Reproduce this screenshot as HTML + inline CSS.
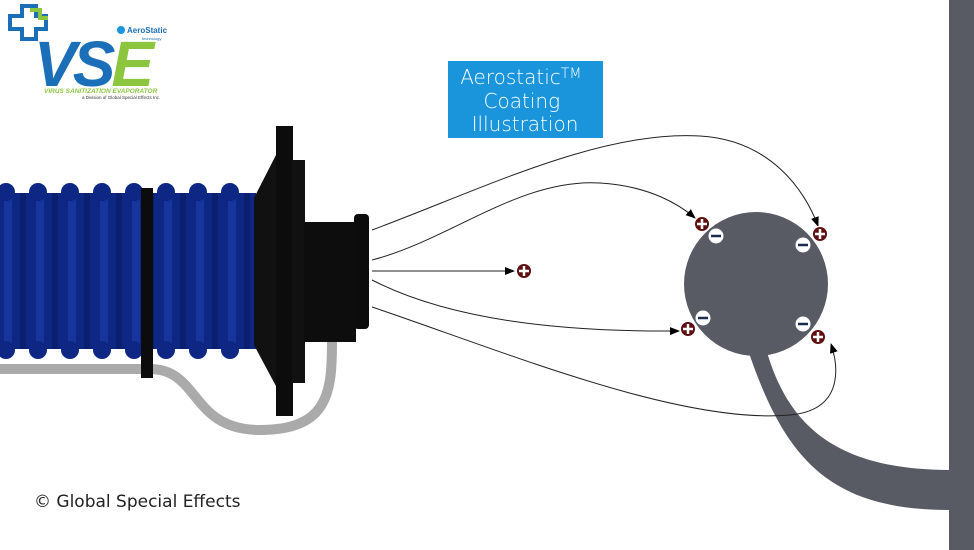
<!DOCTYPE html>
<html><head><style>
html,body{margin:0;padding:0;background:#fff;}
svg{display:block}
</style></head><body>
<svg width="974" height="550" viewBox="0 0 974 550" xmlns="http://www.w3.org/2000/svg">
<defs>
<pattern id="rib" width="32" height="200" patternUnits="userSpaceOnUse">
<rect width="32" height="200" fill="#0e2785"/>
<rect x="4" width="8" height="200" fill="#17359c"/>
<rect x="20" width="6" height="200" fill="#0a1f6e"/>
</pattern>
<marker id="ar" markerWidth="10" markerHeight="8" refX="9" refY="4" orient="auto" markerUnits="userSpaceOnUse">
<path d="M0,0 L10,4 L0,8 Z" fill="#000"/>
</marker>
</defs>
<rect x="949" y="0" width="25" height="550" fill="#585b63"/>
<path d="M765,345 C785,420 830,470 950,470 L950,510 C830,510 785,460 748,350 Z" fill="#585b63"/>
<circle cx="756" cy="284" r="72" fill="#585b63"/>
<path d="M0,369 L150,369 C200,369 190,430 260,430 C330,430 332,390 332,340" fill="none" stroke="#aaa" stroke-width="10"/>
<g>
<rect x="0" y="193" width="256" height="156" fill="url(#rib)"/>
<g fill="#0e2785">
<circle cx="6" cy="192" r="9"/><circle cx="38" cy="192" r="9"/><circle cx="70" cy="192" r="9"/><circle cx="102" cy="192" r="9"/><circle cx="134" cy="192" r="9"/><circle cx="166" cy="192" r="9"/><circle cx="198" cy="192" r="9"/><circle cx="230" cy="192" r="9"/>
<circle cx="6" cy="350" r="9"/><circle cx="38" cy="350" r="9"/><circle cx="70" cy="350" r="9"/><circle cx="102" cy="350" r="9"/><circle cx="134" cy="350" r="9"/><circle cx="166" cy="350" r="9"/><circle cx="198" cy="350" r="9"/><circle cx="230" cy="350" r="9"/>
</g>
</g>
<rect x="141" y="188" width="12" height="190" fill="#0c0c0c"/>
<path d="M254,198 L277,153 L277,388 L254,345 Z" fill="#111"/>
<rect x="276" y="126" width="17" height="290" fill="#0c0c0c"/>
<rect x="292" y="160" width="13" height="223" fill="#111"/>
<rect x="304" y="222" width="52" height="120" fill="#0d0d0d"/>
<rect x="354" y="214" width="15" height="115" rx="4" fill="#0c0c0c"/>
<g fill="none" stroke="#222" stroke-width="1">
<path d="M372,230 C480,190 600,130 700,136 C770,140 805,190 818,226" marker-end="url(#ar)"/>
<path d="M372,260 C450,240 520,178 600,183 C650,186 680,205 695,218" marker-end="url(#ar)"/>
<path d="M372,271 L514,271" marker-end="url(#ar)"/>
<path d="M372,280 C450,320 560,332 679,331" marker-end="url(#ar)"/>
<path d="M372,307 C500,350 680,425 790,415 C845,410 838,365 831,344" marker-end="url(#ar)"/>
</g>
<g>
<g fill="#5e1010" stroke="#fff" stroke-width="1">
<circle cx="702" cy="224" r="7.5"/><circle cx="820" cy="234" r="7.5"/><circle cx="524" cy="271" r="7.5"/><circle cx="688" cy="329" r="7.5"/><circle cx="818" cy="337" r="7.5"/>
</g>
<g stroke="#fff" stroke-width="2.5">
<path d="M697,224h10M702,219v10"/><path d="M815,234h10M820,229v10"/><path d="M519,271h10M524,266v10"/><path d="M683,329h10M688,324v10"/><path d="M813,337h10M818,332v10"/>
</g>
<g fill="#fff">
<circle cx="716" cy="236" r="7.5"/><circle cx="803" cy="245" r="7.5"/><circle cx="703" cy="318" r="7.5"/><circle cx="803" cy="324" r="7.5"/>
</g>
<g stroke="#1b2a50" stroke-width="2.5">
<path d="M711,236h10M798,245h10M698,318h10M798,324h10"/>
</g>
</g>
<rect x="448" y="61" width="155" height="77" fill="#1a95dc"/>
<text font-family="DejaVu Sans, sans-serif" font-weight="200" font-size="20" fill="#fff" text-anchor="middle">
<tspan x="524" y="84">Aerostatic<tspan font-size="14" dy="-6">TM</tspan></tspan>
<tspan x="525" y="108">Coating</tspan>
<tspan x="525" y="131">Illustration</tspan>
</text>
<text x="34" y="507" font-family="DejaVu Sans, sans-serif" font-size="17" fill="#222">© Global Special Effects</text>
<g>
<path d="M22,6 h14 v10 h10 v13 h-10 v10 h-14 v-10 h-12 v-13 h12 z" fill="none" stroke="#1b6fb8" stroke-width="4"/>
<path d="M30,10 h10 v8 h8" fill="none" stroke="#8cc63f" stroke-width="4"/>
<text x="34" y="86" font-family="Liberation Sans, sans-serif" font-weight="bold" font-style="italic" font-size="64" fill="#1b6fb8" letter-spacing="-4">VS<tspan fill="#8cc63f">E</tspan></text>
<circle cx="121" cy="30" r="4" fill="#1b95dc"/>
<text x="127" y="33" font-family="Liberation Sans, sans-serif" font-weight="bold" font-size="8" fill="#1b6fb8">AeroStatic</text>
<text x="142" y="40" font-family="Liberation Sans, sans-serif" font-size="4" fill="#1b6fb8">technology</text>
<text x="44" y="93" font-family="Liberation Sans, sans-serif" font-weight="bold" font-style="italic" font-size="6.5" fill="#8cc63f">VIRUS SANITIZATION EVAPORATOR</text>
<text x="82" y="99" font-family="Liberation Sans, sans-serif" font-size="4.5" fill="#333">a Division of Global Special Effects Inc.</text>
</g>
</svg>
</body></html>
